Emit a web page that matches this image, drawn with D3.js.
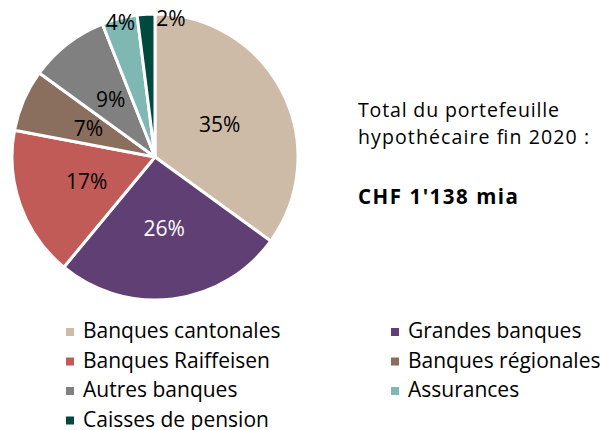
<!DOCTYPE html>
<html><head><meta charset="utf-8">
<script src="https://cdn.jsdelivr.net/npm/d3@7"></script>
<style>body{margin:0;background:#fff}svg{display:block;font-family:"Open Sans",sans-serif}</style>
</head><body><svg id="c" width="600" height="430"></svg>
<script>
const categories = ["Banques cantonales","Grandes banques","Banques Raiffeisen","Banques régionales","Autres banques","Assurances","Caisses de pension"];
const values = [35, 26, 17, 7, 9, 4, 2];
const colors = ["#CDBBA8","#5F3F74","#C15B58","#8A6E5E","#808080","#7FB8B3","#00493F"];
const labelColors = ["#000","#fff","#000","#000","#000","#000","#000"];
const legendOrder = [0,1,2,3,4,5,6];
const totalLines = ["Total du portefeuille","hypothécaire fin 2020 :"];
const totalValue = "CHF 1'138 mia";

const svg = d3.select("#c");
const cx = 155, cy = 157, R = 143;
const pie = d3.pie().sort(null).value(d => d)(values);
const arc = d3.arc().innerRadius(0).outerRadius(R);
const g = svg.append("g").attr("transform", `translate(${cx},${cy})`);
g.selectAll("path").data(pie).join("path")
  .attr("d", arc).attr("fill", (d,i) => colors[i])
  .attr("stroke", "#fff").attr("stroke-width", 3).attr("stroke-linejoin","round");

const inner = d3.arc().innerRadius(145).outerRadius(0);
const outer = d3.arc().innerRadius(139).outerRadius(139);
g.selectAll("text.lbl").data(pie).join("text")
  .attr("class","lbl")
  .attr("transform", (d,i) => {
    const p = values[i] >= 5 ? inner.centroid(d) : outer.centroid(d);
    return `translate(${p[0]},${p[1]})`;
  })
  .attr("x", (d,i) => i === 6 ? 10 : 0)
  .attr("text-anchor", (d,i) => i === 6 ? "start" : "middle")
  .attr("dy", "0.36em")
  .attr("font-size", 21)
  .attr("fill", (d,i) => labelColors[i])
  .text(d => d.data + "%");

const totWidths = [201, 231];
svg.selectAll("text.tot").data(totalLines).join("text")
  .attr("class","tot").attr("x", 358).attr("y", (d,i) => 117 + i*27)
  .attr("font-size", 19.5).attr("fill","#000")
  .attr("textLength", (d,i) => totWidths[i]).attr("lengthAdjust","spacing")
  .text(d => d);
svg.append("text").attr("x", 358).attr("y", 204)
  .attr("font-size", 20.5).attr("font-weight","bold").attr("fill","#000")
  .attr("textLength", 160).attr("lengthAdjust","spacing")
  .text(totalValue);

const lg = svg.append("g");
legendOrder.forEach((idx, k) => {
  const col = k % 2, row = Math.floor(k / 2);
  const x = col ? 391 : 66, y = 338 + row * 29.5;
  lg.append("rect").attr("x", x).attr("y", y - 10).attr("width", 8).attr("height", 8).attr("fill", colors[idx]);
  lg.append("text").attr("x", x + 17).attr("y", y).attr("font-size", 21).attr("fill","#000").text(categories[idx]);
});
</script></body></html>
